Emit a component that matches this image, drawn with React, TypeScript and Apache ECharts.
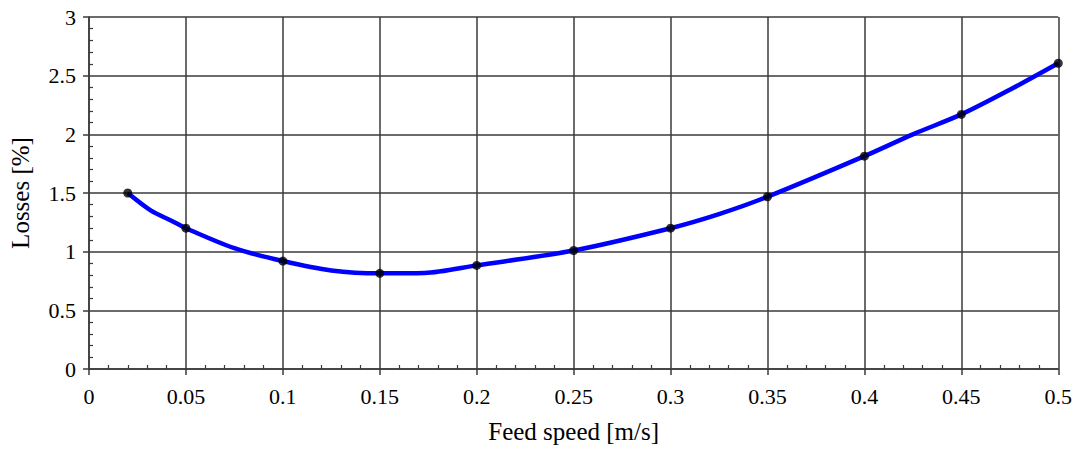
import React, { useEffect, useRef } from "react";
import * as echarts from "echarts";

const measuredSpeed = [0.02, 0.05, 0.1, 0.15, 0.2, 0.25, 0.3, 0.35, 0.4, 0.45, 0.5];
const measuredLoss = [1.5, 1.2, 0.92, 0.815, 0.883, 1.01, 1.2, 1.468, 1.814, 2.17, 2.606];

const curveSpeed = [0.02, 0.032, 0.043, 0.05, 0.075, 0.1, 0.125, 0.15, 0.173, 0.2, 0.25, 0.3, 0.325, 0.35, 0.4, 0.425, 0.45, 0.475, 0.5];
const curveLoss = [1.5, 1.35, 1.26, 1.2, 1.03, 0.92, 0.84, 0.815, 0.818, 0.883, 1.01, 1.2, 1.32, 1.468, 1.814, 2.0, 2.17, 2.38, 2.606];

const FONT = "Liberation Serif";
const AXIS_COLOR = "#3a3a3a";

export default function App() {
  const ref = useRef<HTMLDivElement>(null);
  useEffect(() => {
    if (!ref.current) return;
    const chart = echarts.init(ref.current, undefined, { renderer: "svg" });
    const labelStyle = { color: "#000", fontFamily: FONT, fontSize: 22 };
    const nameStyle = { color: "#000", fontFamily: FONT, fontSize: 25 };
    chart.setOption({
      animation: false,
      backgroundColor: "#fff",
      grid: { left: 87, right: 13, top: 17, bottom: 83 },
      xAxis: [
        {
          type: "value",
          min: 0,
          max: 0.5,
          interval: 0.05,
          position: "bottom",
          name: "Feed speed [m/s]",
          nameLocation: "middle",
          nameGap: 50,
          nameTextStyle: nameStyle,
          axisLine: { show: true, lineStyle: { color: AXIS_COLOR, width: 1.5 } },
          axisTick: { show: true, inside: false, length: 6, lineStyle: { color: AXIS_COLOR, width: 1.5 } },
          axisLabel: { ...labelStyle, margin: 16, formatter: (v: number) => String(+v.toFixed(2)) },
          splitLine: { show: true, lineStyle: { color: AXIS_COLOR, width: 1.5 } },
        },
        {
          type: "value",
          min: 0,
          max: 0.5,
          interval: 0.05,
          position: "bottom",
          axisLine: { show: false },
          axisTick: { show: false, inside: true },
          minorTick: { show: true, splitNumber: 5, length: 4, lineStyle: { color: AXIS_COLOR, width: 1.2 } },
          axisLabel: { show: false },
          splitLine: { show: false },
        },
      ],
      yAxis: [
        {
          type: "value",
          min: 0,
          max: 3,
          interval: 0.5,
          position: "left",
          name: "Losses [%]",
          nameLocation: "middle",
          nameGap: 56,
          nameTextStyle: nameStyle,
          axisLine: { show: true, lineStyle: { color: AXIS_COLOR, width: 1.5 } },
          axisTick: { show: true, inside: false, length: 6, lineStyle: { color: AXIS_COLOR, width: 1.5 } },
          axisLabel: { ...labelStyle, margin: 13 },
          splitLine: { show: true, lineStyle: { color: AXIS_COLOR, width: 1.5 } },
        },
        {
          type: "value",
          min: 0,
          max: 3,
          interval: 0.5,
          position: "left",
          axisLine: { show: false },
          axisTick: { show: false, inside: true },
          minorTick: { show: true, splitNumber: 5, length: 4, lineStyle: { color: AXIS_COLOR, width: 1.2 } },
          axisLabel: { show: false },
          splitLine: { show: false },
        },
      ],
      series: [
        {
          type: "line",
          xAxisIndex: 0,
          yAxisIndex: 0,
          data: curveSpeed.map((x, i) => [x, curveLoss[i]]),
          smooth: 0.3,
          showSymbol: false,
          lineStyle: { color: "#0000ff", width: 4.5 },
          z: 2,
        },
        {
          type: "scatter",
          xAxisIndex: 0,
          yAxisIndex: 0,
          data: measuredSpeed.map((x, i) => [x, measuredLoss[i]]),
          symbol: "circle",
          symbolSize: 9,
          itemStyle: { color: "#000" },
          z: 3,
        },
      ],
    });
    return () => chart.dispose();
  }, []);
  return <div ref={ref} style={{ width: 1075, height: 452, position: "absolute", left: 0, top: 0 }} />;
}
